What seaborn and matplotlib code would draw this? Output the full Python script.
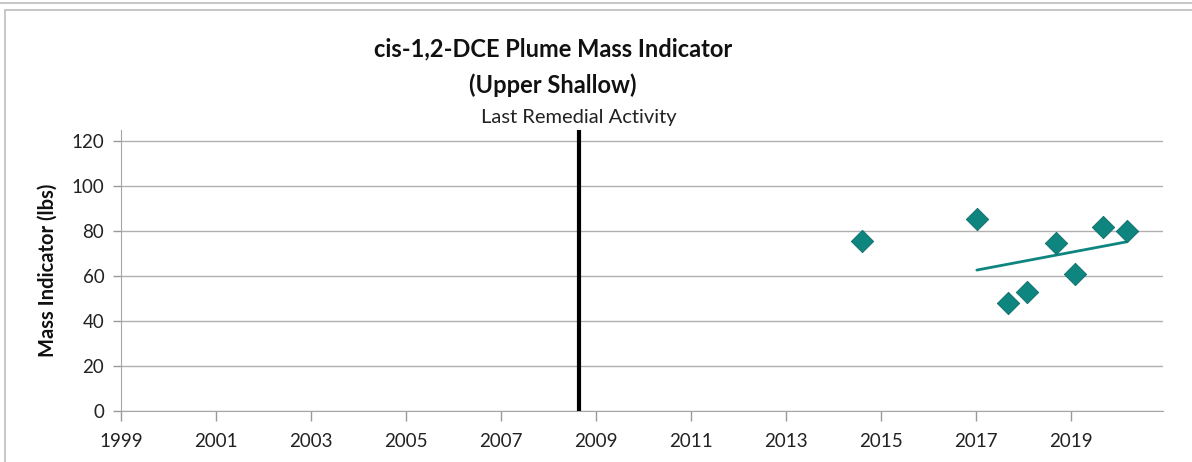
import numpy as np
import pandas as pd
import seaborn as sns
import matplotlib.pyplot as plt
from matplotlib.patches import Rectangle

# sample dates (decimal year) and mass indicator values
years = [2014.6, 2017.02, 2017.67, 2018.07, 2018.68, 2019.08, 2019.67, 2020.18]
mass = [75.6, 85.3, 48.0, 52.9, 74.7, 60.9, 81.8, 80.0]
remedial_year = 2008.64
x_ticks = list(range(1999, 2021, 2))
y_ticks = list(range(0, 121, 20))

df = pd.DataFrame({'year': years, 'mass': mass})

sns.set_style('white')
plt.rcParams['font.family'] = ['Lato', 'DejaVu Sans']

fig = plt.figure(figsize=(11.92, 4.62), dpi=100)
ax = fig.add_axes([0.1015, 0.1104, 0.8742, 0.6082])

teal = '#0f8580'
sns.scatterplot(data=df, x='year', y='mass', marker='D', s=130, color=teal,
                edgecolor='#0b6d69', linewidth=0.6, ax=ax, zorder=4)

# linear trend over the recent samples (2017 onward)
recent = df[df['year'] >= 2016]
k, b = np.polyfit(recent['year'], recent['mass'], 1)
xs = np.array([recent['year'].min(), recent['year'].max()])
ax.plot(xs, k * xs + b, color=teal, lw=2, zorder=3)

ax.axvline(remedial_year, color='black', lw=3, zorder=5)
ax.text(remedial_year, 1.015, 'Last Remedial Activity', transform=ax.get_xaxis_transform(),
        ha='center', va='bottom', fontsize=14.5, color='#222222')

ax.set_xlim(1999, 2020.94)
ax.set_ylim(0, 125)
ax.set_xticks(x_ticks)
ax.set_yticks(y_ticks)
ax.tick_params(axis='both', labelsize=13.5, colors='#999999', labelcolor='#222222',
               length=6, width=1, bottom=True, left=True)
ax.tick_params(axis='x', direction='out', length=7, pad=9)
ax.tick_params(axis='y', pad=6)
ax.grid(axis='y', color='#b0b0b0', lw=1)
ax.set_axisbelow(True)
for side in ['top', 'right']:
    ax.spines[side].set_visible(False)
for side in ['left', 'bottom']:
    ax.spines[side].set_color('#a6a6a6')
ax.set_xlabel('')
ax.set_ylabel('Mass Indicator (lbs)', fontsize=14.5, fontweight='bold', color='#111111', labelpad=10)

fig.text(0.464, 0.895, 'cis-1,2-DCE Plume Mass Indicator', ha='center', va='center',
         fontsize=17, fontweight='bold', color='#111111')
fig.text(0.464, 0.815, '(Upper Shallow)', ha='center', va='center',
         fontsize=17, fontweight='bold', color='#111111')

# chart frame
fig.patches.append(Rectangle((0.004, -0.01), 1.2, 0.988, transform=fig.transFigure,
                             fill=False, edgecolor='#bdbdbd', lw=1.2))
fig.lines.append(plt.Line2D([0, 1], [0.993, 0.993], transform=fig.transFigure,
                            color='#bdbdbd', lw=1.2))

fig.savefig('out.png', dpi=100)
